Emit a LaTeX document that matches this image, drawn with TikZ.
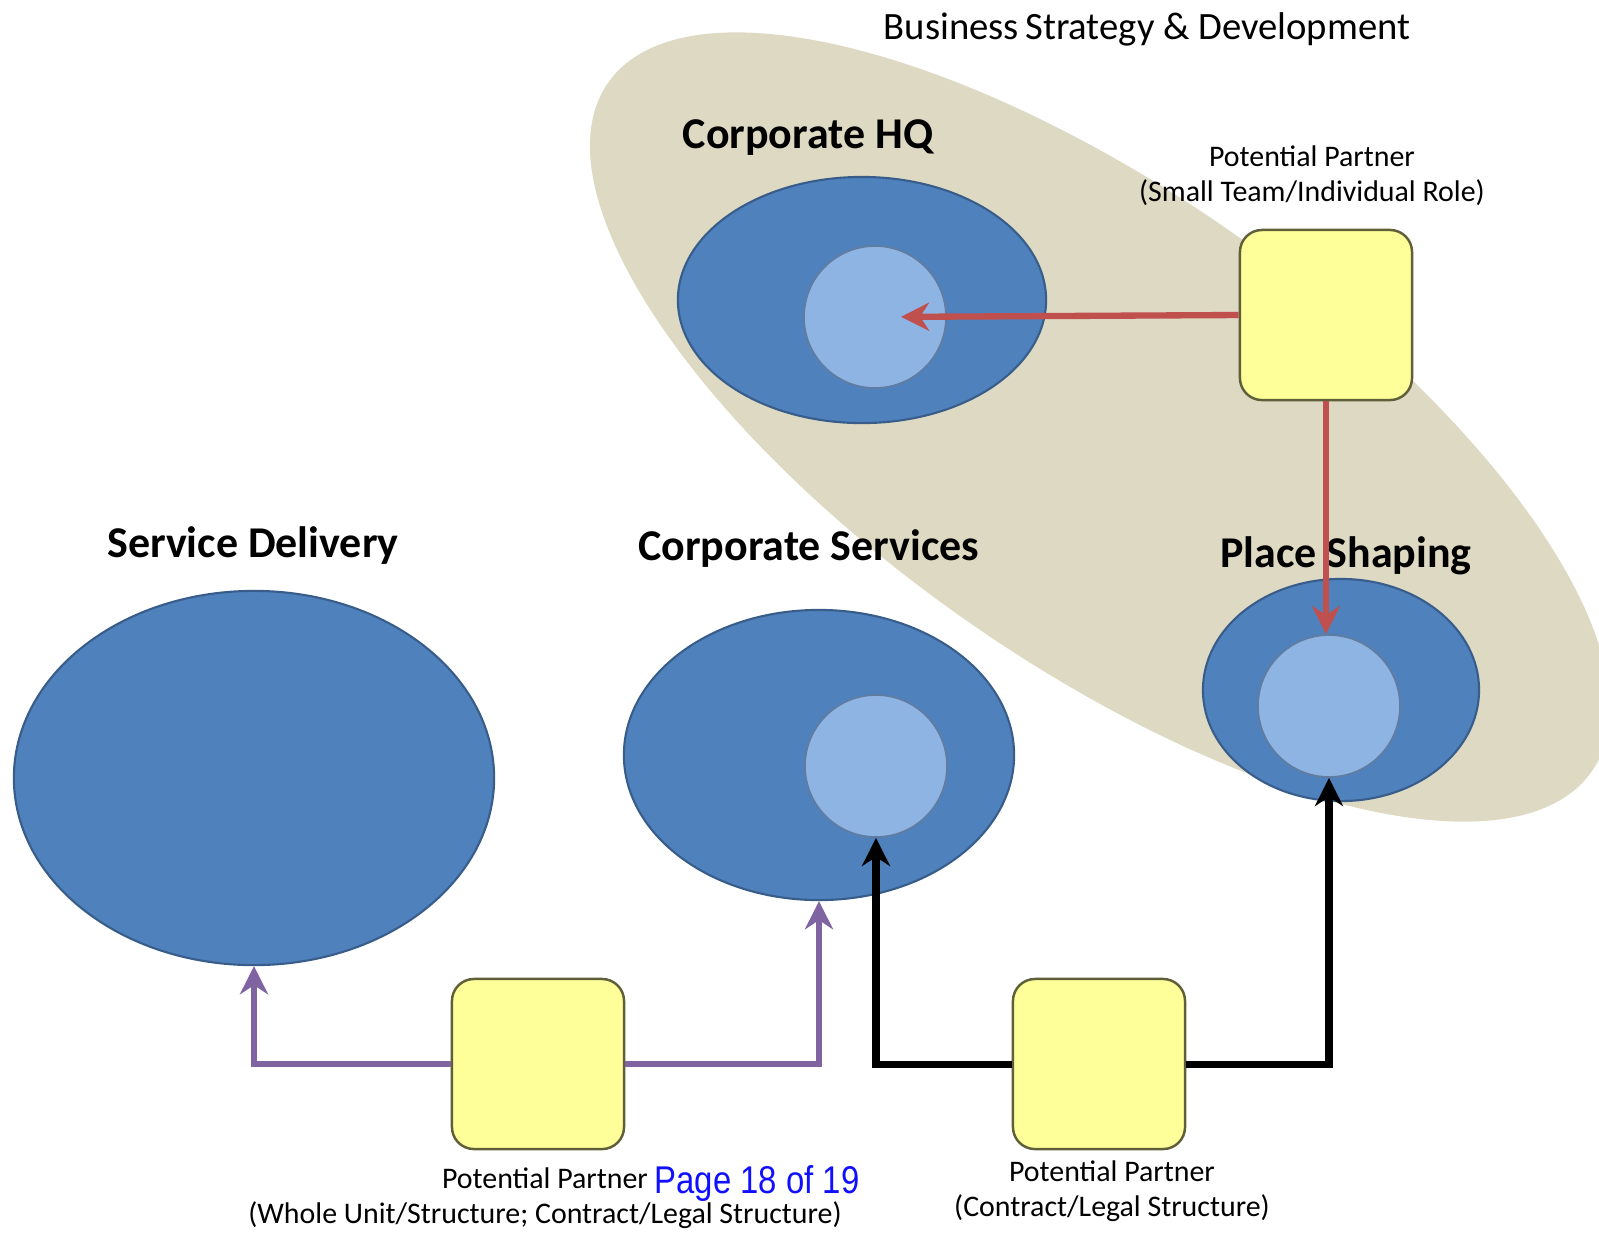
\documentclass[tikz,border=0pt]{standalone}
\usepackage{fontspec}
\setmainfont{Carlito}
\newfontfamily\pagefont{Liberation Sans}
\usetikzlibrary{shapes.geometric,arrows.meta}
\definecolor{zonetan}{HTML}{DDD9C3}
\definecolor{unitblue}{HTML}{4F81BD}
\definecolor{unitedge}{HTML}{385D8A}
\definecolor{corelight}{HTML}{8EB4E3}
\definecolor{partneryellow}{HTML}{FFFF99}
\definecolor{partneredge}{HTML}{5F5F3A}
\definecolor{linkred}{HTML}{C0504D}
\definecolor{linkpurple}{HTML}{8064A2}
\definecolor{pageblue}{HTML}{1010FF}
\tikzset{
	zone/.style={ellipse, fill=zonetan, inner sep=0pt},
	unit/.style={ellipse, fill=unitblue, draw=unitedge, line width=0.6pt, inner sep=0pt},
	core/.style={circle, fill=corelight, draw=unitedge!80, line width=0.5pt, minimum size=1.42cm, inner sep=0pt},
	partner/.style={rectangle, rounded corners=0.22cm, fill=partneryellow, draw=partneredge, line width=0.7pt, minimum width=1.72cm, minimum height=1.7cm},
	heading/.style={font=\fontsize{12.5}{15}\selectfont\bfseries},
	note/.style={font=\fontsize{8.5}{10}\selectfont, align=center},
	elbow/.style={to path={-| (\tikztotarget)}}
}

\begin{document}
\begin{tikzpicture}[x=0.01cm, y=-0.01cm]
				\useasboundingbox (0,0) rectangle (1599,1232);
				\clip (0,0) rectangle (1599,1232);
				% strategy zone behind the units
				\node[zone, rotate=-35, minimum width=12cm, minimum height=4.7cm] (bsd) at (1100,427) {};
				\node[font=\fontsize{11}{13}\selectfont] (bsdlabel) at (1147,29) {Business\,Strategy \& Development};
				% units
				\node[unit, minimum width=4.8cm, minimum height=3.74cm] (delivery) at (254,778) {};
				\node[unit, minimum width=3.9cm, minimum height=2.9cm] (services) at (819,755) {};
				\node[unit, minimum width=3.68cm, minimum height=2.46cm] (hq) at (862,300) {};
				\node[unit, minimum width=2.76cm, minimum height=2.22cm] (place) at (1341,690) {};
				\node[core] (svccore) at (876,766) {};
				\node[core] (hqcore) at (875,317) {};
				\node[core] (placecore) at (1329,706) {};
				\node[heading] (deliverylabel) at (253,546) {Service Delivery};
				\node[heading] (serviceslabel) at (809,549) {Corporate Services};
				\node[heading] (hqlabel) at (808,138) {Corporate HQ};
				\node[heading] (placelabel) at (1346,556) {Place Shaping};
				% partners
				\node[partner] (smallteam) at (1326,315) {};
				\node[partner] (wholeunit) at (538,1064) {};
				\node[partner] (contract) at (1099,1064) {};
				\node[note] (smallteamlabel) at (1312,176) {Potential Partner\\(Small Team/Individual Role)};
				\node[note] (wholeunitlabel) at (545,1198) {Potential Partner\\(Whole Unit/Structure; Contract/Legal Structure)};
				\node[note] (contractlabel) at (1112,1191) {Potential Partner\\(Contract/Legal Structure)};
				\node[font=\pagefont\fontsize{11}{13}\selectfont, text=pageblue, xscale=0.85] (pagelabel) at (757,1183) {Page 18 of 19};
				\path[-{Stealth[length=8pt,width=8pt]}, line width=1.8pt]
				(smallteam.west) edge [linkred, shorten >=0.26cm] (hqcore.center)
				(smallteam.south) edge [linkred] (smallteam.south |- placecore.north)
				(contract.west) edge [black, line width=2pt, elbow] (svccore.south)
				(contract.east) edge [black, line width=2pt, elbow] (placecore.south)
				(wholeunit.west) edge [linkpurple, elbow] (delivery.south)
				(wholeunit.east) edge [linkpurple, elbow] (services.south);
			\end{tikzpicture}
\end{document}
